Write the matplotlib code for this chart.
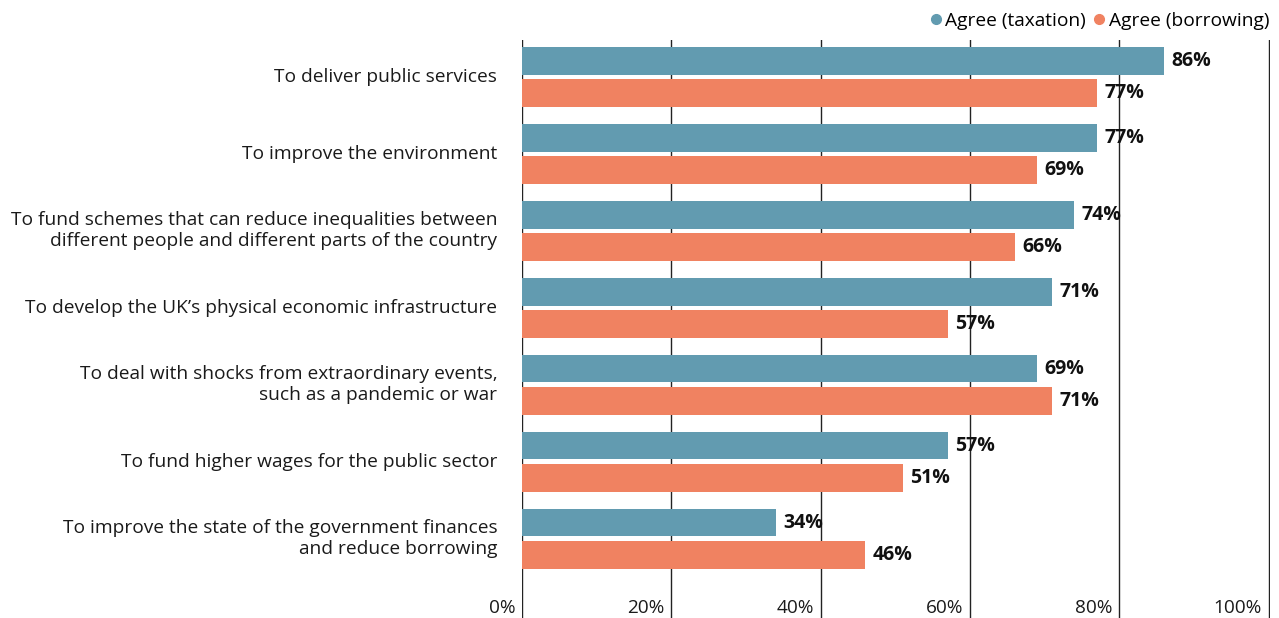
import matplotlib.pyplot as plt
from matplotlib.lines import Line2D
import numpy as np

plt.rcParams['font.family'] = ['Open Sans', 'DejaVu Sans']

categories = [
    "To deliver public services",
    "To improve the environment",
    "To fund schemes that can reduce inequalities between\ndifferent people and different parts of the country",
    "To develop the UK\u2019s physical economic infrastructure",
    "To deal with shocks from extraordinary events,\nsuch as a pandemic or war",
    "To fund higher wages for the public sector",
    "To improve the state of the government finances\nand reduce borrowing",
]
taxation = [86, 77, 74, 71, 69, 57, 34]
borrowing = [77, 69, 66, 57, 71, 51, 46]
xticks = [0, 20, 40, 60, 80, 100]

blue = '#629BB0'
orange = '#F08261'

fig = plt.figure(figsize=(12.79, 6.18), dpi=100)
ax = fig.add_axes([522 / 1279, 0, 748 / 1279, 578 / 618])

y = np.arange(len(categories))
off = 0.21
h = 0.36
ax.barh(y - off, taxation, height=h, color=blue, zorder=2)
ax.barh(y + off, borrowing, height=h, color=orange, zorder=2)

for yi, v in zip(y - off, taxation):
    ax.text(v + 1, yi, f"{v}%", va='center', ha='left', fontsize=14,
            fontweight='bold', color='#111111')
for yi, v in zip(y + off, borrowing):
    ax.text(v + 1, yi, f"{v}%", va='center', ha='left', fontsize=14,
            fontweight='bold', color='#111111')

for xv in xticks:
    ax.axvline(xv, color='#222222', lw=1, zorder=1)
    ax.text(xv - 0.9, 6.9, f"{xv}%", ha='right', va='center', fontsize=13.7,
            color='#1a1a1a')

for yi, lab in zip(y, categories):
    ax.text(-3.3, yi, lab, ha='right', va='center', fontsize=13.8,
            color='#1a1a1a', linespacing=1.2)

ax.set_xlim(0, 100.2)
ax.set_ylim(7.03, -0.48)
ax.axis('off')

handles = [
    Line2D([], [], marker='o', ls='', color=blue, markersize=7),
    Line2D([], [], marker='o', ls='', color=orange, markersize=7),
]
fig.legend(handles, ['Agree (taxation)', 'Agree (borrowing)'],
           loc='upper right', bbox_to_anchor=(0.997, 0.99), ncol=2,
           frameon=False, fontsize=13.8, handlelength=0.6, handletextpad=0.2,
           columnspacing=0.4, borderaxespad=0.2, borderpad=0.1)

fig.savefig('out.png', dpi=100)
